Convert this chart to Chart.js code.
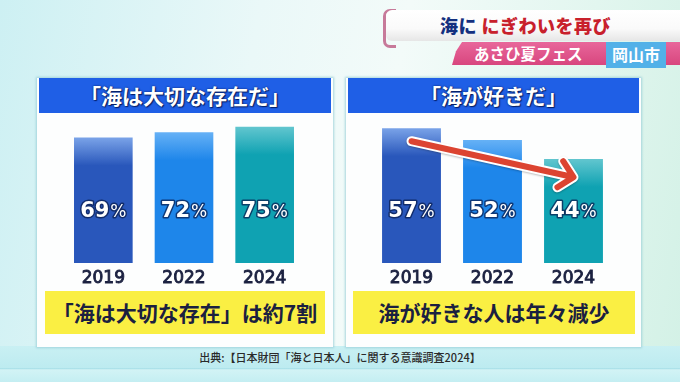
<!DOCTYPE html>
<html lang="ja">
<head>
<meta charset="utf-8">
<script src="https://cdn.jsdelivr.net/npm/chart.js@4.4.1/dist/chart.umd.min.js"></script>
<style>
  html, body { margin:0; padding:0; }
  body { width:680px; height:382px; overflow:hidden; position:relative;
    font-family:"Noto Sans CJK JP","Noto Sans",sans-serif;
    background: linear-gradient(100deg, #cdf0f3 0%, #eaf8f8 35%, #f3fbf9 55%, #e2f6ef 80%, #d3f1e6 100%); }
  .bottom { position:absolute; left:0; top:346px; width:680px; height:36px;
    background: linear-gradient(180deg, #c9f0f3 0%, #bdebf0 60%, #a9e0e8 63%, #d2f3f5 66%, #c4eef2 100%); }
  .panel { position:absolute; top:78px; height:269px; background:#fdfefe;
    box-shadow: 0 0 2px 1px rgba(150,205,215,0.8); }
  .head { position:absolute; top:0; height:35px; background:#1f5fe6; color:#fff;
    font-weight:700; font-size:21px; line-height:35px; text-align:center;
    text-shadow: 0 0 2px rgba(0,20,80,0.9), 1px 1px 1px rgba(0,20,80,0.8); }
  .yellow { position:absolute; top:213px; height:43px; background:#faef43; color:#1a2040;
    font-weight:700; font-size:21px; line-height:43px; text-align:center; }
  .chartbox { position:absolute; top:114px; height:178px; }
  .src { position:absolute; left:0; width:680px; top:349px; text-align:center;
    font-size:11px; color:#2a2a2a; font-weight:500; }
  .band { position:absolute; left:386px; top:10px; width:300px; height:31px;
    background: linear-gradient(180deg,#ffffff 0%,#fafafa 60%,#e6e6e6 100%);
    border-radius:6px 0 0 6px; }
  .bracket { position:absolute; left:383px; top:9px; width:10px; height:33px;
    border:3px solid #c77a9a; border-right:none; border-radius:7px 0 0 7px; }
  .title { position:absolute; left:440px; top:10px; height:31px; line-height:31px;
    font-size:18px; font-weight:900; color:#c8202c; letter-spacing:0.5px; }
  .title .navy { color:#14307f; }
  .pink { position:absolute; left:452px; top:42px; width:228px; height:23px;
    background: linear-gradient(180deg,#e8679b 0%,#d8467e 100%);
    clip-path: polygon(10px 0, 100% 0, 100% 100%, 0 100%, 4px 40%); }
  .pinktxt { position:absolute; left:474px; top:42px; height:23px; line-height:23px;
    color:#fff; font-size:15.5px; font-weight:700; }
  .city { position:absolute; left:606px; top:42px; width:60px; height:26px; background:#52b1e8;
    color:#fff; font-size:16px; font-weight:700; line-height:25px; text-align:center; }
</style>
</head>
<body>
<div class="bottom"></div>

<div class="bracket"></div>
<div class="band"></div>
<div class="title"><span class="navy">海に</span> にぎわいを再び</div>
<div class="pink"></div>
<div class="pinktxt">あさひ夏フェス</div>
<div class="city">岡山市</div>

<div class="panel" style="left:37px;width:296px;">
  <div class="head" style="left:2px;width:292px;">「海は大切な存在だ」</div>
  <div class="yellow" style="left:8px;width:280px;">「海は大切な存在」は約7割</div>
</div>
<div class="panel" style="left:346px;width:295px;">
  <div class="head" style="left:2px;width:291px;">「海が好きだ」</div>
  <div class="yellow" style="left:7px;width:282px;">海が好きな人は年々減少</div>
</div>

<div class="chartbox" style="left:63px;width:242px;"><canvas id="c1"></canvas></div>
<div class="chartbox" style="left:371px;width:243px;"><canvas id="c2"></canvas></div>

<div class="src">出典:【日本財団「海と日本人」に関する意識調査2024】</div>

<script>
// ---- data ----
const years = ['2019', '2022', '2024'];
const importantValues = [69, 72, 75];   // 「海は大切な存在だ」 (%)
const likeValues = [57, 52, 44];        // 「海が好きだ」 (%)
const barLight = ['#7aa3e8', '#66b1f6', '#62c6cf'];
const barDark  = ['#2957bb', '#1e86ea', '#0fa2b2'];

// gradient tops on bars, built from each bar element's own geometry
const barGradient = {
  id: 'barGradient',
  beforeDatasetsDraw(chart) {
    const meta = chart.getDatasetMeta(0);
    meta.data.forEach((bar, i) => {
      if (!isFinite(bar.y)) return;
      const g = chart.ctx.createLinearGradient(0, bar.y, 0, bar.y + 28);
      g.addColorStop(0, barLight[i]);
      g.addColorStop(1, barDark[i]);
      bar.options.backgroundColor = g;
    });
  }
};

const valueLabels = {
  id: 'valueLabels',
  afterDatasetsDraw(chart) {
    const ctx = chart.ctx;
    const meta = chart.getDatasetMeta(0);
    const data = chart.data.datasets[0].data;
    const y = chart.chartArea.bottom - 51;
    ctx.save();
    meta.data.forEach((bar, i) => {
      const num = String(data[i]);
      const f1 = 'bold 21px "DejaVu Sans", sans-serif';
      const f2 = '17px "DejaVu Sans", sans-serif';
      ctx.font = f1; const w1 = ctx.measureText(num).width;
      ctx.font = f2; const w2 = ctx.measureText('%').width;
      const x0 = bar.x - (w1 + w2 + 1) / 2;
      ctx.textBaseline = 'middle';
      ctx.textAlign = 'left';
      ctx.lineJoin = 'round';
      ctx.strokeStyle = 'rgba(10,30,80,0.75)';
      ctx.lineWidth = 3;
      ctx.fillStyle = '#ffffff';
      ctx.font = f1; ctx.strokeText(num, x0, y); ctx.fillText(num, x0, y);
      ctx.font = f2; ctx.strokeText('%', x0 + w1 + 1, y + 1); ctx.fillText('%', x0 + w1 + 1, y + 1);
    });
    ctx.restore();
  }
};

const trendArrow = {
  id: 'trendArrow',
  afterDatasetsDraw(chart, args, opts) {
    if (!opts || !opts.from) return;
    const xs = chart.scales.x, ys = chart.scales.y;
    const x1 = xs.getPixelForValue(opts.from[0]), y1 = ys.getPixelForValue(opts.from[1]);
    const x2 = xs.getPixelForValue(opts.to[0]),   y2 = ys.getPixelForValue(opts.to[1]);
    const ang = Math.atan2(y2 - y1, x2 - x1);
    const hl = 19, ha = 0.78;
    const ax = x2 - hl * Math.cos(ang - ha), ay = y2 - hl * Math.sin(ang - ha);
    const bx = x2 - hl * Math.cos(ang + ha), by = y2 - hl * Math.sin(ang + ha);
    const ctx = chart.ctx;
    ctx.save();
    ctx.lineCap = 'round'; ctx.lineJoin = 'round';
    const path = () => {
      ctx.beginPath();
      ctx.moveTo(x1, y1); ctx.lineTo(x2 - 3 * Math.cos(ang), y2 - 3 * Math.sin(ang));
      ctx.moveTo(ax, ay); ctx.lineTo(x2, y2); ctx.lineTo(bx, by);
    };
    ctx.shadowColor = 'rgba(0,0,0,0.25)'; ctx.shadowBlur = 2; ctx.shadowOffsetY = 1;
    ctx.strokeStyle = '#ffffff'; ctx.lineWidth = 10; path(); ctx.stroke();
    ctx.shadowColor = 'transparent';
    ctx.strokeStyle = '#dc4431'; ctx.lineWidth = 6; path(); ctx.stroke();
    ctx.restore();
  }
};

function makeChart(id, values, yMax, arrow) {
  return new Chart(document.getElementById(id), {
    type: 'bar',
    data: {
      labels: years,
      datasets: [{ data: values, backgroundColor: barDark, borderWidth: 0,
        categoryPercentage: 1.0, barPercentage: 0.727 }]
    },
    options: {
      responsive: true, maintainAspectRatio: false, animation: false,
      layout: { padding: 0 },
      plugins: { legend: { display: false }, tooltip: { enabled: false },
        trendArrow: arrow || {} },
      scales: {
        x: {
          grid: { display: false, drawTicks: false }, border: { display: false },
          ticks: { color: '#1b2140', padding: 5,
            textStrokeColor: '#1b2140', textStrokeWidth: 0.9,
            font: { family: '"DejaVu Sans", sans-serif', size: 17, weight: 'normal' } },
          afterFit(s) { s.height = 29; }
        },
        y: { display: false, min: 0, max: yMax }
      }
    },
    plugins: [barGradient, valueLabels, trendArrow]
  });
}

makeChart('c1', importantValues, 82);
makeChart('c2', likeValues, 63, { from: [0, 51.5], to: [2, 36.3] });
</script>
</body>
</html>
